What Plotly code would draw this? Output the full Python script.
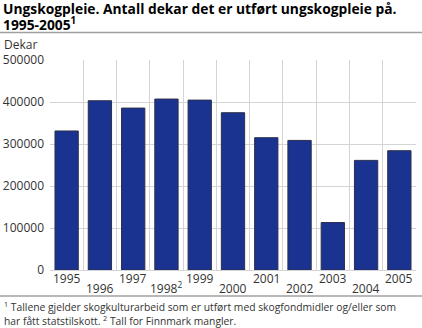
import plotly.graph_objects as go

years = ["1995", "1996", "1997", "1998", "1999", "2000", "2001", "2002", "2003", "2004", "2005"]
year_labels = ["1995", "1996", "1997", "1998<sup>2</sup>", "1999", "2000", "2001", "2002", "2003", "2004", "2005"]
dekar = [331000, 403000, 385500, 407000, 404500, 374500, 315000, 308500, 113000, 261000, 284000]
y_ticks = [0, 100000, 200000, 300000, 400000, 500000]

FONT = "Open Sans"
TXT = "#333333"
W, H = 422, 328
ML, MR, MT, MB = 50, 6, 60, 58
PW, PH = W - ML - MR, H - MT - MB


def px(x):
    return (x - ML) / PW


def py(y):
    return (H - MB - y) / PH


fig = go.Figure()
fig.add_trace(go.Bar(
    x=years, y=dekar,
    marker=dict(color="#1a3390", line=dict(color="#2a2f4a", width=1)),
    width=0.7,
))

annotations = []
for i, lab in enumerate(year_labels):
    annotations.append(dict(
        x=i, xref="x", y=py(270), yref="paper", text=lab, showarrow=False,
        xanchor="center", yanchor="middle", yshift=-8 if i % 2 == 0 else -18,
        font=dict(family=FONT, size=12, color=TXT),
    ))
annotations.append(dict(
    x=px(2), xref="paper", y=py(44), yref="paper", xanchor="left", yanchor="middle",
    text="Dekar", showarrow=False, font=dict(family=FONT, size=12, color=TXT),
))
annotations.append(dict(
    x=px(2), xref="paper", y=py(306.5), yref="paper", xanchor="left", yanchor="middle",
    align="left", showarrow=False,
    text="<sup>1</sup> Tallene gjelder skogkulturarbeid som er utført med skogfondmidler og/eller som",
    font=dict(family=FONT, size=10.3, color=TXT),
))
annotations.append(dict(
    x=px(2), xref="paper", y=py(320), yref="paper", xanchor="left", yanchor="middle",
    align="left", showarrow=False,
    text="har fått statstilskott. <sup>2</sup> Tall for Finnmark mangler.",
    font=dict(family=FONT, size=10.3, color=TXT),
))
annotations.append(dict(
    x=px(1), xref="paper", y=py(8), yref="paper", xanchor="left", yanchor="middle",
    align="left", showarrow=False,
    text="<b>Ungskogpleie. Antall dekar det er utført ungskogpleie på.</b>",
    font=dict(family=FONT, size=13.8, color="#000000"),
))
annotations.append(dict(
    x=px(1), xref="paper", y=py(24.5), yref="paper", xanchor="left", yanchor="middle",
    align="left", showarrow=False,
    text="<b>1995-2005<sup>1</sup></b>",
    font=dict(family=FONT, size=13.8, color="#000000"),
))

shapes = [
    dict(type="line", xref="paper", yref="paper", x0=px(0), x1=px(W), y0=py(32.5), y1=py(32.5),
         line=dict(color="#a0a0a0", width=1.5)),
    dict(type="line", xref="paper", yref="paper", x0=px(0), x1=px(W), y0=py(296), y1=py(296),
         line=dict(color="#a0a0a0", width=1.5)),
]

fig.update_layout(
    width=W, height=H,
    margin=dict(l=ML, r=MR, t=MT, b=MB, autoexpand=False),
    paper_bgcolor="white", plot_bgcolor="white",
    showlegend=False,
    bargap=0.3,
    xaxis=dict(
        type="category", categoryorder="array", categoryarray=years,
        tickson="boundaries", showgrid=True, gridcolor="#d4d4d4", gridwidth=1,
        showticklabels=False, ticks="", showline=False, zeroline=False,
        range=[-0.5, 10.5],
    ),
    yaxis=dict(
        range=[0, 500000], tickvals=y_ticks, ticktext=[str(v) for v in y_ticks],
        showgrid=True, gridcolor="#d4d4d4", gridwidth=1,
        zeroline=True, zerolinecolor="#d4d4d4", zerolinewidth=1,
        ticks="", ticklabelstandoff=5,
        tickfont=dict(family=FONT, size=12, color=TXT),
    ),
    annotations=annotations, shapes=shapes,
)

fig.write_html("out.html")
